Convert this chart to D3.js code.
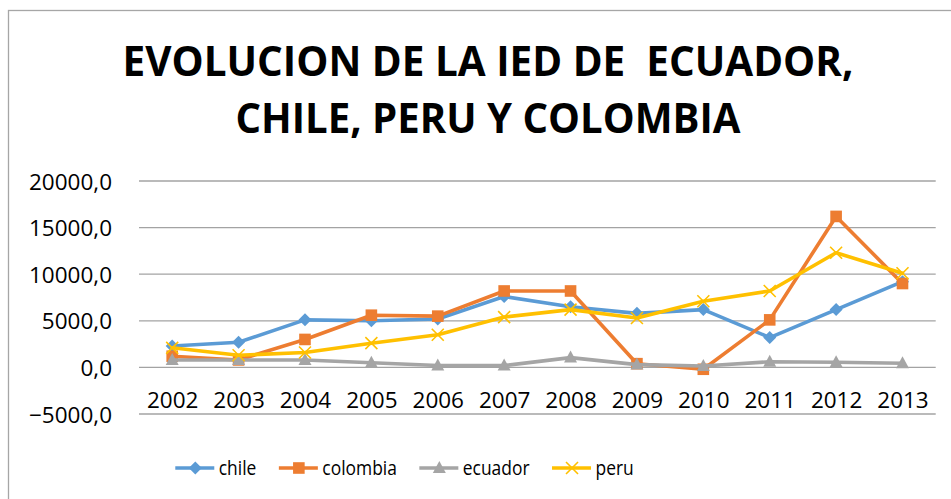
<!DOCTYPE html>
<html>
<head>
<meta charset="utf-8">
<script src="https://cdn.jsdelivr.net/npm/d3@7"></script>
<style>
  body { margin: 0; background: #fff; }
  svg text { font-family: "Open Sans", "Noto Sans", sans-serif; }
</style>
</head>
<body>
<div id="chart"></div>
<script>
var years = ['2002', '2003', '2004', '2005', '2006', '2007', '2008', '2009', '2010', '2011', '2012', '2013'];
var chile = [2300, 2700, 5100, 5000, 5200, 7600, 6500, 5800, 6200, 3200, 6200, 9200];
var colombia = [1200, 800, 3000, 5600, 5500, 8200, 8200, 400, -200, 5100, 16200, 9000];
var ecuador = [800, 800, 800, 500, 200, 200, 1050, 300, 150, 600, 550, 450];
var peru = [2100, 1300, 1600, 2600, 3500, 5400, 6200, 5300, 7100, 8200, 12300, 10100];
var yTicks = [-5000, 0, 5000, 10000, 15000, 20000];
var titleLines = ['EVOLUCION DE LA IED DE  ECUADOR,', 'CHILE, PERU Y COLOMBIA'];

var series = [
  { name: 'chile', values: chile, color: '#5B9BD5', marker: 'diamond' },
  { name: 'colombia', values: colombia, color: '#ED7D31', marker: 'square' },
  { name: 'ecuador', values: ecuador, color: '#A5A5A5', marker: 'triangle' },
  { name: 'peru', values: peru, color: '#FFC000', marker: 'x' }
];

var width = 951, height = 499;
var plot = { left: 139, right: 935.7, top: 181, bottom: 414 };

var svg = d3.select('#chart').append('svg')
  .attr('width', width)
  .attr('height', height);

// chart frame (runs off the right and bottom edge)
svg.append('rect')
  .attr('x', 8.5).attr('y', 10.5)
  .attr('width', 980).attr('height', 520)
  .attr('fill', 'none')
  .attr('stroke', '#a6a6a6')
  .attr('stroke-width', 1.3);

// title
var titleY = [76, 133];
var titleW = [731, 505];
titleLines.forEach(function(t, i) {
  svg.append('text')
    .attr('x', 488)
    .attr('y', titleY[i])
    .attr('text-anchor', 'middle')
    .attr('font-size', 41)
    .attr('font-weight', 'bold')
    .attr('textLength', titleW[i])
    .attr('lengthAdjust', 'spacingAndGlyphs')
    .style('white-space', 'pre')
    .attr('fill', '#000')
    .text(t);
});

var x = d3.scalePoint()
  .domain(years)
  .range([plot.left, plot.right])
  .padding(0.5);

var y = d3.scaleLinear()
  .domain([-5000, 20000])
  .range([plot.bottom, plot.top]);

var fmt = function(d) { return d3.format('.1f')(d).replace('.', ','); };

// gridlines
svg.append('g')
  .selectAll('line')
  .data(yTicks)
  .enter()
  .append('line')
  .attr('x1', plot.left).attr('x2', plot.right)
  .attr('y1', function(d) { return y(d); })
  .attr('y2', function(d) { return y(d); })
  .attr('stroke', '#a3a3a3')
  .attr('stroke-width', 1.3);

// y labels
var yAxis = d3.axisLeft(y).tickValues(yTicks).tickFormat(fmt).tickSize(0).tickPadding(0);
var yg = svg.append('g')
  .attr('transform', 'translate(112,0)')
  .call(yAxis);
yg.select('.domain').remove();
yg.selectAll('text')
  .attr('font-size', 22.5)
  .attr('fill', '#000')
  .attr('dy', '0.36em');

// x labels sit just under the zero line
var xAxis = d3.axisBottom(x).tickSize(0).tickPadding(0);
var xg = svg.append('g')
  .attr('transform', 'translate(0,' + y(0) + ')')
  .call(xAxis);
xg.select('.domain').remove();
xg.selectAll('text')
  .attr('font-size', 22.5)
  .attr('fill', '#000')
  .attr('y', 0)
  .attr('dy', 41);

var line = d3.line()
  .x(function(d, i) { return x(years[i]); })
  .y(function(d) { return y(d); });

function drawMarker(g, type, color) {
  if (type === 'diamond') {
    g.append('path').attr('d', 'M0,-6.5L6.5,0L0,6.5L-6.5,0Z').attr('fill', color);
  } else if (type === 'square') {
    g.append('rect').attr('x', -5.8).attr('y', -5.8).attr('width', 11.6).attr('height', 11.6).attr('fill', color);
  } else if (type === 'triangle') {
    g.append('path').attr('d', 'M0,-7L6.5,5L-6.5,5Z').attr('fill', color);
  } else {
    g.append('path').attr('d', 'M-6,-6L6,6M-6,6L6,-6')
      .attr('stroke', color).attr('stroke-width', 1.6).attr('fill', 'none');
  }
}

series.forEach(function(s) {
  var g = svg.append('g');
  g.append('path')
    .datum(s.values)
    .attr('d', line)
    .attr('fill', 'none')
    .attr('stroke', s.color)
    .attr('stroke-width', 3.6)
    .attr('stroke-linejoin', 'round')
    .attr('stroke-linecap', 'round');
  g.selectAll('g.pt')
    .data(s.values)
    .enter()
    .append('g')
    .attr('class', 'pt')
    .attr('transform', function(d, i) { return 'translate(' + x(years[i]) + ',' + y(d) + ')'; })
    .each(function() { drawMarker(d3.select(this), s.marker, s.color); });
});

// legend
var legend = svg.append('g');
var cursor = 0;
series.forEach(function(s) {
  var item = legend.append('g').attr('transform', 'translate(' + cursor + ',0)');
  item.append('line')
    .attr('x1', 0).attr('x2', 39)
    .attr('y1', 0).attr('y2', 0)
    .attr('stroke', s.color)
    .attr('stroke-width', 3.6);
  var m = item.append('g').attr('transform', 'translate(20,0)');
  drawMarker(m, s.marker, s.color);
  var t = item.append('text')
    .attr('x', 43.5)
    .attr('dy', '0.35em')
    .attr('font-size', 20)
    .attr('fill', '#000')
    .text(s.name);
  // the reference legend text is a bit condensed
  var w = t.node().getComputedTextLength() * 0.87;
  t.attr('textLength', w).attr('lengthAdjust', 'spacingAndGlyphs');
  cursor += 43.5 + w + 22.5;
});
var legendW = cursor - 22.5;
legend.attr('transform', 'translate(' + (404.5 - legendW / 2) + ',468)');
</script>
</body>
</html>
